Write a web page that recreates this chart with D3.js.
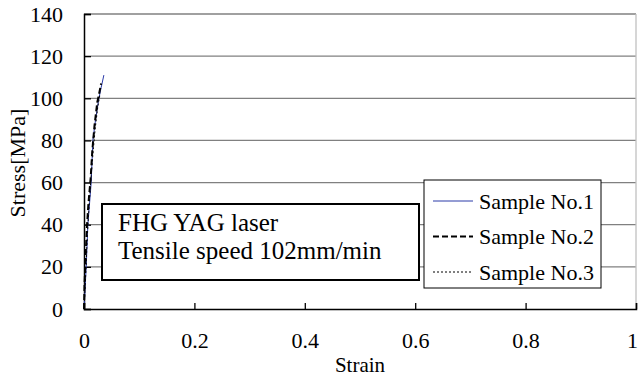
<!DOCTYPE html>
<html>
<head>
<meta charset="utf-8">
<script src="https://cdn.jsdelivr.net/npm/d3@7"></script>
<style>
  body { margin: 0; background: #fff; }
</style>
</head>
<body>
<svg width="638" height="378"></svg>
<script>
// data
var xTicks = [0, 0.2, 0.4, 0.6, 0.8, 1];
var yTicks = [0, 20, 40, 60, 80, 100, 120, 140];
var seriesNames = ["Sample No.1", "Sample No.2", "Sample No.3"];
var strain1 = [0, 0.002, 0.004, 0.007, 0.010, 0.013, 0.016, 0.021, 0.027, 0.031, 0.036];
var stress1 = [0, 10, 20, 40, 50, 60, 80, 90, 100, 105, 111];
var strain2 = [0, 0.001, 0.003, 0.005, 0.008, 0.012, 0.015, 0.019, 0.024, 0.028, 0.031];
var stress2 = [0, 12, 25, 38, 50, 62, 75, 87, 98, 103, 107];
var strain3 = [0, 0.002, 0.004, 0.006, 0.009, 0.012, 0.016, 0.020, 0.025, 0.029];
var stress3 = [0, 10, 22, 35, 48, 60, 73, 85, 96, 102];
var noteLines = ["FHG YAG laser", "Tensile speed 102mm/min"];

var SERIF = "Liberation Serif, Times New Roman, serif";
var svg = d3.select("svg").attr("font-family", SERIF);
var plotL = 84, plotR = 636, plotT = 14, plotB = 309;

var xScale = d3.scaleLinear().domain([0, 1]).range([plotL, plotR]);
var yScale = d3.scaleLinear().domain([0, 140]).range([plotB, plotT]);

// gridlines (incl. top border)
svg.append("g").selectAll("line")
  .data(yTicks.filter(function(d){ return d > 0; }))
  .enter().append("line")
    .attr("x1", plotL).attr("x2", plotR)
    .attr("y1", function(d){ return yScale(d); })
    .attr("y2", function(d){ return yScale(d); })
    .attr("stroke", "#808080").attr("stroke-width", 1.3);

// right border
svg.append("line")
  .attr("x1", plotR).attr("x2", plotR).attr("y1", plotT).attr("y2", plotB)
  .attr("stroke", "#c0c0c0").attr("stroke-width", 1.3);

// axes, ticks point inward
var yAxis = svg.append("g")
  .attr("transform", "translate(" + plotL + ",0)")
  .call(d3.axisLeft(yScale).tickValues(yTicks).tickSize(-7).tickPadding(21));
var xAxis = svg.append("g")
  .attr("transform", "translate(0," + plotB + ")")
  .call(d3.axisBottom(xScale).tickValues(xTicks).tickSize(-6).tickPadding(32)
    .tickFormat(function(d){ return d; }));

[yAxis, xAxis].forEach(function(ax){
  ax.attr("font-family", SERIF);
  ax.select(".domain").attr("stroke", "#000").attr("stroke-width", 1.5);
  ax.selectAll(".tick line").attr("stroke", "#000").attr("stroke-width", 1.3);
  ax.selectAll("text").attr("font-size", "22px").attr("fill", "#000")
    .attr("font-family", SERIF);
});
xAxis.selectAll(".tick text").attr("dy", "0.3em")
  .attr("dx", function(d){ return d === 1 ? "-4" : null; });

svg.append("text")
  .attr("transform", "translate(17,163) rotate(-90)")
  .attr("text-anchor", "middle")
  .attr("dy", "0.35em")
  .attr("font-family", SERIF)
  .attr("font-size", "22px")
  .text("Stress[MPa]");

svg.append("text")
  .attr("x", 360).attr("y", 372)
  .attr("text-anchor", "middle")
  .attr("font-family", SERIF)
  .attr("font-size", "21px")
  .text("Strain");

// curves
var line = d3.line()
  .x(function(d){ return xScale(d[0]); })
  .y(function(d){ return yScale(d[1]); });

var styles = [
  {stroke: "#2a3aa8", width: 1, dash: null},
  {stroke: "#000", width: 2, dash: "6,3"},
  {stroke: "#000", width: 1, dash: "2,2"}
];
var series = [d3.zip(strain1, stress1), d3.zip(strain2, stress2), d3.zip(strain3, stress3)];

svg.append("g").selectAll("path")
  .data(series)
  .enter().append("path")
    .attr("d", line)
    .attr("fill", "none")
    .attr("stroke", function(d, i){ return styles[i].stroke; })
    .attr("stroke-width", function(d, i){ return styles[i].width; })
    .attr("stroke-dasharray", function(d, i){ return styles[i].dash; });

// annotation box
var note = svg.append("g");
note.append("rect")
  .attr("x", 102).attr("y", 204).attr("width", 317).attr("height", 76)
  .attr("fill", "#fff").attr("stroke", "#000").attr("stroke-width", 2);
note.selectAll("text")
  .data(noteLines)
  .enter().append("text")
    .attr("x", 118)
    .attr("y", function(d, i){ return 231 + i * 28; })
    .attr("font-family", SERIF)
    .attr("font-size", "25px")
    .text(function(d){ return d; });

// legend
var legend = svg.append("g");
legend.append("rect")
  .attr("x", 424).attr("y", 180).attr("width", 177).attr("height", 108)
  .attr("fill", "#fff").attr("stroke", "#000").attr("stroke-width", 1);
var items = legend.selectAll("g.item")
  .data(seriesNames)
  .enter().append("g")
    .attr("transform", function(d, i){ return "translate(0," + (201 + i * 35.5) + ")"; });
items.append("line")
  .attr("x1", 433).attr("x2", 473)
  .attr("stroke", function(d, i){ return styles[i].stroke; })
  .attr("stroke-width", function(d, i){ return styles[i].width; })
  .attr("stroke-dasharray", function(d, i){ return styles[i].dash; });
items.append("text")
  .attr("x", 479).attr("dy", "0.35em")
  .attr("font-family", SERIF)
  .attr("font-size", "22px")
  .text(function(d){ return d; });
</script>
</body>
</html>
